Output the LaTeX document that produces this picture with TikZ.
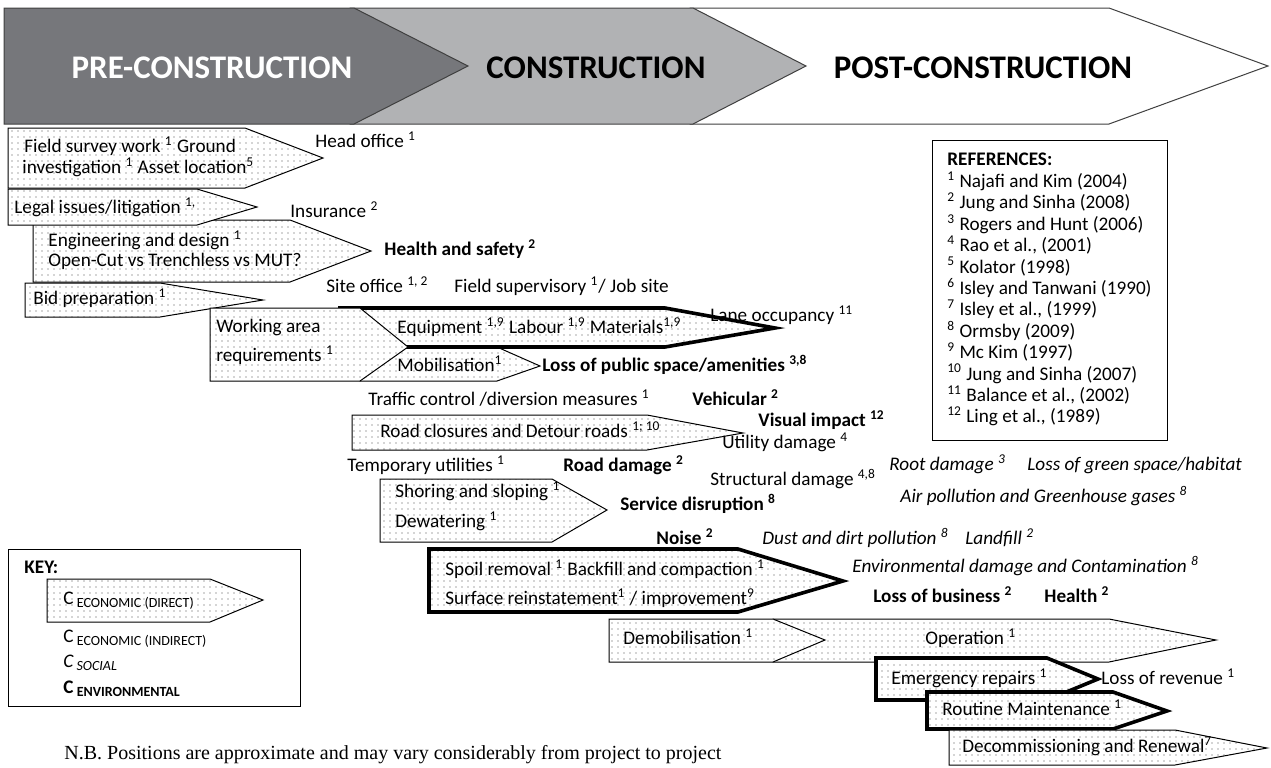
\documentclass[tikz,border=0pt]{standalone}
\usepackage{fontspec}
\setmainfont{Carlito}
\newfontfamily\nbfont{Liberation Serif}
\usetikzlibrary{patterns.meta}
\definecolor{preclr}{RGB}{118,119,123}
\definecolor{conclr}{RGB}{177,178,180}
\tikzset{
  phase/.style={draw=black!75,line width=0.5pt},
  phasetxt/.style={font=\fontsize{16.5}{19}\selectfont\bfseries},
  cost/.style={draw=black,line width=0.5pt,preaction={fill=white},
    pattern={Dots[distance=3pt,radius=0.3pt]},pattern color=black!70},
  heavy/.style={cost,line width=1.8pt},
  lbl/.style={anchor=mid west,inner sep=0pt},
  soc/.style={lbl,font=\itshape},
  env/.style={lbl,font=\bfseries},
}
\newcommand{\sub}[1]{\,{\fontsize{7}{8}\selectfont\raisebox{-0.45ex}{#1}}}
\begin{document}
\fontsize{9.6}{11}\selectfont
\begin{tikzpicture}[x=0.5pt,y=-0.5pt,line join=miter]
  \useasboundingbox (0,0) rectangle (1271,767);
  % phases
  \draw[phase,fill=white]  (690,8)--(1109,8)--(1268,66)--(1109,124)--(690,124)--cycle;
  \draw[phase,fill=conclr] (350,8)--(693,8)--(806,66)--(693,124)--(350,124)--cycle;
  \draw[phase,fill=preclr] (4,8)--(354,8)--(468,66)--(354,124)--(4,124)--cycle;
  \node[phasetxt,text=white] (pre)  at (212,68) {PRE-CONSTRUCTION};
  \node[phasetxt]            (con)  at (596,68) {CONSTRUCTION};
  \node[phasetxt]            (post) at (983,68) {POST-CONSTRUCTION};

  % pre-construction costs
  \draw[cost] (8,128)--(245,128)--(323,158)--(245,188)--(8,188)--cycle;
  \draw[cost] (33,220)--(290,220)--(371,251)--(290,282)--(33,282)--cycle;
  \draw[cost] (8,189)--(197,189)--(257,207)--(197,225)--(8,225)--cycle;
  \draw[cost] (25,283)--(160,283)--(263,300)--(160,317)--(25,317)--cycle;
  \node[lbl] (survey) at (24,148) {Field survey work \textsuperscript{1} Ground};
  \node[lbl] (invest) at (22,169) {investigation \textsuperscript{1} Asset location\textsuperscript{5}};
  \node[lbl] (legal)  at (14,209) {Legal issues/litigation \textsuperscript{1,}};
  \node[lbl] (engin)  at (48,242) {Engineering and design \textsuperscript{1}};
  \node[lbl] (mut)    at (48,262) {Open-Cut vs Trenchless vs MUT?};
  \node[lbl] (bid)    at (33,300) {Bid preparation \textsuperscript{1}};
  \node[lbl] (head)   at (315,143) {Head office \textsuperscript{1}};
  \node[lbl] (insur)  at (290,213) {Insurance \textsuperscript{2}};
  \node[env] (health) at (384,251) {Health and safety \textsuperscript{2}};
  \node[lbl] (site)   at (326,288) {Site office \textsuperscript{1, 2}};
  \node[lbl] (field)  at (454,288) {Field supervisory \textsuperscript{1}/ Job site};

  % construction costs
  \draw[cost]  (360,347)--(497,347)--(540,366)--(497,381)--(360,381)--cycle;
  \draw[heavy] (340,308)--(665,308)--(775,328)--(665,347)--(340,347)--cycle;
  \draw[cost]  (210,308)--(360,308)--(408,347)--(360,381)--(210,381)--cycle;
  \node[lbl] (work)   at (216,328) {Working area};
  \node[lbl] (requir) at (216,357) {requirements \textsuperscript{1}};
  \node[lbl] (equip)  at (397,329) {Equipment \textsuperscript{1,9} Labour \textsuperscript{1,9} Materials\textsuperscript{1,9}};
  \node[lbl] (mobil)  at (397,367) {Mobilisation\textsuperscript{1}};
  \node[lbl] (lane)   at (710,317) {Lane occupancy \textsuperscript{11}};
  \node[env] (public) at (542,367) {Loss of public space/amenities \textsuperscript{3,8}};
  \node[lbl] (traff)  at (368,401) {Traffic control /diversion measures \textsuperscript{1}};
  \node[env] (vehic)  at (692,401) {Vehicular \textsuperscript{2}};

  \draw[cost] (352,415)--(647,415)--(743,433)--(647,450)--(352,450)--cycle;
  \node[lbl] (road)   at (380,433) {Road closures and Detour roads \textsuperscript{1; 10}};
  \node[env] (visual) at (758,422) {Visual impact \textsuperscript{12}};
  \node[lbl] (util)   at (722,444) {Utility damage \textsuperscript{4}};
  \node[lbl] (temp)   at (347,467) {Temporary utilities \textsuperscript{1}};
  \node[env] (rdam)   at (563,467) {Road damage \textsuperscript{2}};
  \node[lbl] (struct) at (710,481) {Structural damage \textsuperscript{4,8}};
  \node[soc] (root)   at (889,466) {Root damage \textsuperscript{3}};
  \node[soc] (green)  at (1027,466) {Loss of green space/habitat};

  \draw[cost] (380,479)--(552,479)--(607,510)--(552,542)--(380,542)--cycle;
  \node[lbl] (shore)  at (395,493) {Shoring and sloping \textsuperscript{1}};
  \node[lbl] (dewat)  at (395,523) {Dewatering \textsuperscript{1}};
  \node[env] (serv)   at (620,506) {Service disruption \textsuperscript{8}};
  \node[soc] (air)    at (900,498) {Air pollution and Greenhouse gases \textsuperscript{8}};
  \node[env] (noise)  at (656,540) {Noise \textsuperscript{2}};
  \node[soc] (dust)   at (762,540) {Dust and dirt pollution \textsuperscript{8}};
  \node[soc] (land)   at (965,540) {Landfill \textsuperscript{2}};

  \draw[heavy] (429,549)--(738,549)--(843,581)--(738,612)--(429,612)--cycle;
  \node[lbl] (spoil)  at (445,571) {Spoil removal \textsuperscript{1} Backfill and compaction \textsuperscript{1}};
  \node[lbl] (surf)   at (445,600) {Surface reinstatement\textsuperscript{1} / improvement\textsuperscript{9}};
  \node[soc] (envd)   at (852,568) {Environmental damage and Contamination \textsuperscript{8}};
  \node[env] (busin)  at (873,598) {Loss of business \textsuperscript{2}};
  \node[env] (hlth)   at (1044,598) {Health \textsuperscript{2}};

  % post-construction costs
  \draw[cost]  (773,619)--(1109,619)--(1216,640)--(1109,662)--(773,662)--cycle;
  \draw[cost]  (609,619)--(773,619)--(825,640)--(773,662)--(609,662)--cycle;
  \draw[heavy] (876,658)--(1047,658)--(1098,679)--(1047,700)--(876,700)--cycle;
  \draw[heavy] (927,692)--(1113,692)--(1167,711)--(1113,729)--(927,729)--cycle;
  \draw[cost]  (949,730)--(1175,730)--(1267,748)--(1175,765)--(949,765)--cycle;
  \node[lbl] (demob)  at (623,640) {Demobilisation \textsuperscript{1}};
  \node[lbl] (oper)   at (925,640) {Operation \textsuperscript{1}};
  \node[lbl] (emerg)  at (891,680) {Emergency repairs \textsuperscript{1}};
  \node[lbl] (reven)  at (1101,680) {Loss of revenue \textsuperscript{1}};
  \node[lbl] (rout)   at (942,711) {Routine Maintenance \textsuperscript{1}};
  \node[lbl] (decom)  at (962,748) {Decommissioning and Renewal\textsuperscript{7}};

  % key
  \draw[line width=0.5pt] (8,549) rectangle (300,706);
  \node[env] (key) at (24,569) {KEY:};
  \draw[cost] (47,579)--(210,579)--(263,600)--(210,622)--(47,622)--cycle;
  \node[lbl] (kdir) at (63,600) {C\sub{ECONOMIC (DIRECT)}};
  \node[lbl] (kind) at (63,638) {C\sub{ECONOMIC (INDIRECT)}};
  \node[soc] (ksoc) at (63,663) {C\sub{SOCIAL}};
  \node[env] (kenv) at (63,689) {C\sub{ENVIRONMENTAL}};

  % references
  \draw[line width=0.5pt] (932,140) rectangle (1167,440);
  \node[env] (refs) at (947,161) {REFERENCES:};
  \foreach \n/\t [count=\i] in {1/Najafi and Kim (2004),2/Jung and Sinha (2008),
      3/Rogers and Hunt (2006),4/{Rao et al., (2001)},5/Kolator (1998),
      6/Isley and Tanwani (1990),7/{Isley et al., (1999)},8/Ormsby (2009),
      9/Mc Kim (1997),10/Jung and Sinha (2007),11/{Balance et al., (2002)},
      12/{Ling et al., (1989)}}
    \node[lbl] (ref\i) at (947,{183+21.4*(\i-1)}) {\textsuperscript{\n} \t};

  \node[lbl,font=\nbfont\fontsize{10}{12}\selectfont] (nb) at (64,755)
    {N.B. Positions are approximate and may vary considerably from project to project};
\end{tikzpicture}
\end{document}
